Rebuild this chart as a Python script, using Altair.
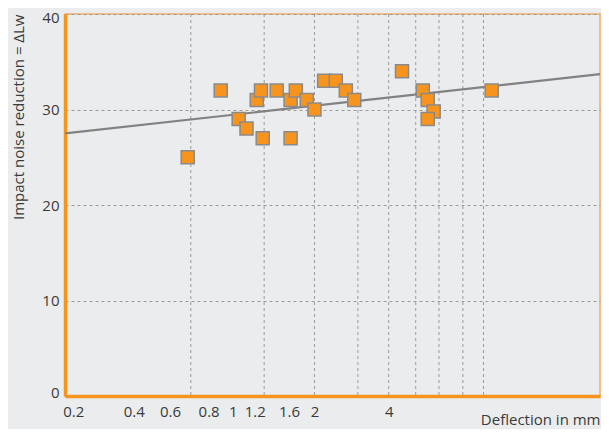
import altair as alt
import pandas as pd

# measured points (deflection in mm, log axis) and impact noise reduction
deflection = [0.612, 0.833, 0.985, 1.06, 1.166, 1.213, 1.233, 1.405, 1.60, 1.60,
              1.68, 1.86, 2.0, 2.19, 2.44, 2.68, 2.90, 4.53, 5.50, 5.76,
              6.09, 5.76, 10.47]
reduction = [25, 32, 29, 28, 31, 32, 27, 32, 31, 27,
             32, 31, 30, 33, 33, 32, 31, 34, 32, 31,
             29.8, 29, 32]

trend_x = [0.1945, 28.8]
trend_y = [27.5, 33.7]

grid_x = [0.63, 1.25, 2, 3, 4, 5.15, 6.4, 8, 9.7]
tick_pos = [0.21, 0.37, 0.519, 0.744, 0.932, 1.144, 1.576, 2, 4]
tick_text = ["0.2", "0.4", "0.6", "0.8", "1", "1.2", "1.6", "2", "4"]
y_ticks = [0, 10, 20, 30, 40]

FONT = "Open Sans"
TXT = "#3a3a3a"
ORANGE = "#F7941D"

pts = pd.DataFrame({"x": deflection, "y": reduction})
trend = pd.DataFrame({"x": trend_x, "y": trend_y})
grid = pd.DataFrame({"x": grid_x})

xscale = alt.Scale(type="log", domain=[0.1945, 28.8], nice=False)
yscale = alt.Scale(domain=[0, 40], nice=False, zero=True)

label_expr = "{}[indexof({}, datum.value)]".format(
    "[" + ",".join("'" + t + "'" for t in tick_text) + "]",
    "[" + ",".join(str(v) for v in tick_pos) + "]",
)

xaxis = alt.Axis(
    values=tick_pos, labelExpr=label_expr, grid=False, ticks=False,
    domainColor=ORANGE, domainWidth=3.5, labelPadding=8,
    labelFont=FONT, labelFontSize=15, labelColor=TXT,
    title="Deflection in mm", titleFont=FONT, titleFontSize=15,
    titleFontWeight="normal", titleColor=TXT, titleAnchor="end",
    titleAlign="right", titleBaseline="alphabetic", titleY=28,
)
yaxis = alt.Axis(
    values=y_ticks, grid=True, gridColor="#9a9a9a", gridDash=[3, 3],
    gridWidth=1, ticks=False, domainColor=ORANGE, domainWidth=3.5,
    labelPadding=6, labelFont=FONT, labelFontSize=15, labelColor=TXT,
    labelFlush=True, labelFlushOffset=4,
    title="Impact noise reduction = ΔLw", titleFont=FONT, titleFontSize=15,
    titleFontWeight="normal", titleColor=TXT, titlePadding=15,
    titleAnchor="end",
)

X = alt.X("x:Q", scale=xscale, axis=xaxis)
Y = alt.Y("y:Q", scale=yscale, axis=yaxis)

vgrid = alt.Chart(grid).mark_rule(
    color="#9a9a9a", strokeDash=[3, 3], strokeWidth=1
).encode(x=X)

line = alt.Chart(trend).mark_line(color="#828282", strokeWidth=2.2).encode(x=X, y=Y)

squares = alt.Chart(pts).mark_square(
    size=170, color=ORANGE, opacity=1, stroke="#8a8a8a", strokeWidth=1.5
).encode(x=X, y=Y)

chart = alt.layer(vgrid, line, squares).properties(
    width=535, height=382,
    autosize=alt.AutoSizeParams(type="none"),
    padding={"left": 57, "top": 6, "right": 1, "bottom": 33},
    background="#EBECEE",
).configure_view(stroke="#F4B063", strokeWidth=1.5, fill="#EBECEE")

chart.save("out.html", embed_options={"renderer": "svg", "actions": False})
